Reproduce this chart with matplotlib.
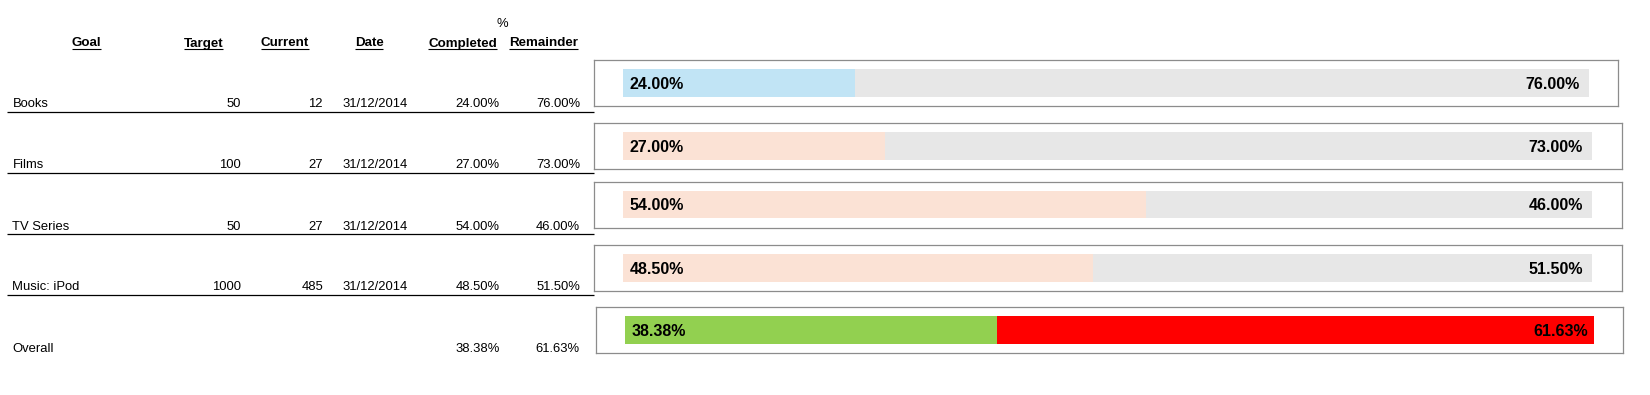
import matplotlib
matplotlib.use('Agg')
import matplotlib.pyplot as plt

plt.rcParams['font.family'] = ['Liberation Sans', 'DejaVu Sans']

# data
goals = ['Books', 'Films', 'TV Series', 'Music: iPod', 'Overall']
targets = ['50', '100', '50', '1000', '']
currents = ['12', '27', '27', '485', '']
dates = ['31/12/2014', '31/12/2014', '31/12/2014', '31/12/2014', '']
completed = [24.00, 27.00, 54.00, 48.50, 38.38]
remainder = [76.00, 73.00, 46.00, 51.50, 61.63]

done_colors = ['#C1E4F5', '#FBE2D5', '#FBE2D5', '#FBE2D5', '#92D050']
rest_colors = ['#E7E7E7', '#E7E7E7', '#E7E7E7', '#E7E7E7', '#FF0000']

W, H = 1650, 395
fig = plt.figure(figsize=(W / 100, H / 100), dpi=100)
ax = fig.add_axes([0, 0, 1, 1])
ax.set_xlim(0, W)
ax.set_ylim(H, 0)
ax.axis('off')

# ---- table on the left ----
headers = [('Goal', 86.5), ('Target', 203.5), ('Current', 285), ('Date', 369),
           ('Completed', 462.5), ('Remainder', 543.5)]
ax.text(502.7, 27, '%', ha='center', va='baseline', fontsize=9.4)
head_texts = []
for label, x in headers:
    t = ax.text(x, 46.5, label, ha='center', va='baseline', fontsize=9.6,
                fontweight='bold')
    head_texts.append(t)

row_base = [107, 168.3, 229.5, 290.5, 352]
row_lines = [112.3, 173.3, 234.3, 295.3]
for i, g in enumerate(goals):
    y = row_base[i]
    ax.text(12.5, y, g, ha='left', va='baseline', fontsize=9.4)
    ax.text(241, y, targets[i], ha='right', va='baseline', fontsize=9.4)
    ax.text(323, y, currents[i], ha='right', va='baseline', fontsize=9.4)
    ax.text(407.5, y, dates[i], ha='right', va='baseline', fontsize=9.4)
    ax.text(499.5, y, '%.2f%%' % completed[i], ha='right', va='baseline', fontsize=9.4)
    ax.text(580, y, '%.2f%%' % remainder[i], ha='right', va='baseline', fontsize=9.4)

for y in row_lines:
    ax.plot([7, 594], [y, y], color='black', lw=0.9, solid_capstyle='butt')

# underline the headers
fig.canvas.draw()
r = fig.canvas.get_renderer()
inv = ax.transData.inverted()
for t in head_texts:
    bb = t.get_window_extent(r)
    (x0, _), (x1, _) = inv.transform([(bb.x0, 0), (bb.x1, 0)])
    ax.plot([x0, x1], [48.8, 48.8], color='black', lw=0.8, solid_capstyle='butt')

# ---- progress bars on the right ----
boxes = [(594, 60, 1618, 106), (594, 123, 1622, 169), (594, 182, 1622, 228),
         (594, 245, 1622, 291), (596, 307, 1623, 353)]
bars = [(623, 1589, 69, 97), (623, 1592, 132, 160), (623, 1592, 191, 218),
        (623, 1592, 254, 282), (625, 1594, 316, 344)]

for i in range(len(goals)):
    x0, y0, x1, y1 = boxes[i]
    bl, br, bt, bb_ = bars[i]
    bax = fig.add_axes([x0 / W, 1 - y1 / H, (x1 - x0) / W, (y1 - y0) / H])
    s = 100.0 / (br - bl)
    bax.set_xlim(-(bl - x0) * s, 100 + (x1 - br) * s)
    bax.set_ylim(y1, y0)
    yc = (bt + bb_) / 2.0
    h = bb_ - bt
    bax.barh([yc], [completed[i]], height=h, color=done_colors[i])
    bax.barh([yc], [remainder[i]], left=[completed[i]], height=h, color=rest_colors[i])
    bax.set_xticks([])
    bax.set_yticks([])
    for sp in bax.spines.values():
        sp.set_color('#8C8C8C')
        sp.set_linewidth(0.9)
    rpad = -4 if i == len(goals) - 1 else -6.5
    bax.annotate('%.2f%%' % completed[i], xy=(0, yc), xytext=(4.5, 0),
                 textcoords='offset points', ha='left', va='center_baseline',
                 fontsize=11.5, fontweight='bold', color='black')
    bax.annotate('%.2f%%' % remainder[i], xy=(100, yc), xytext=(rpad, 0),
                 textcoords='offset points', ha='right', va='center_baseline',
                 fontsize=11.5, fontweight='bold', color='black')

fig.savefig('out.png', dpi=100)
